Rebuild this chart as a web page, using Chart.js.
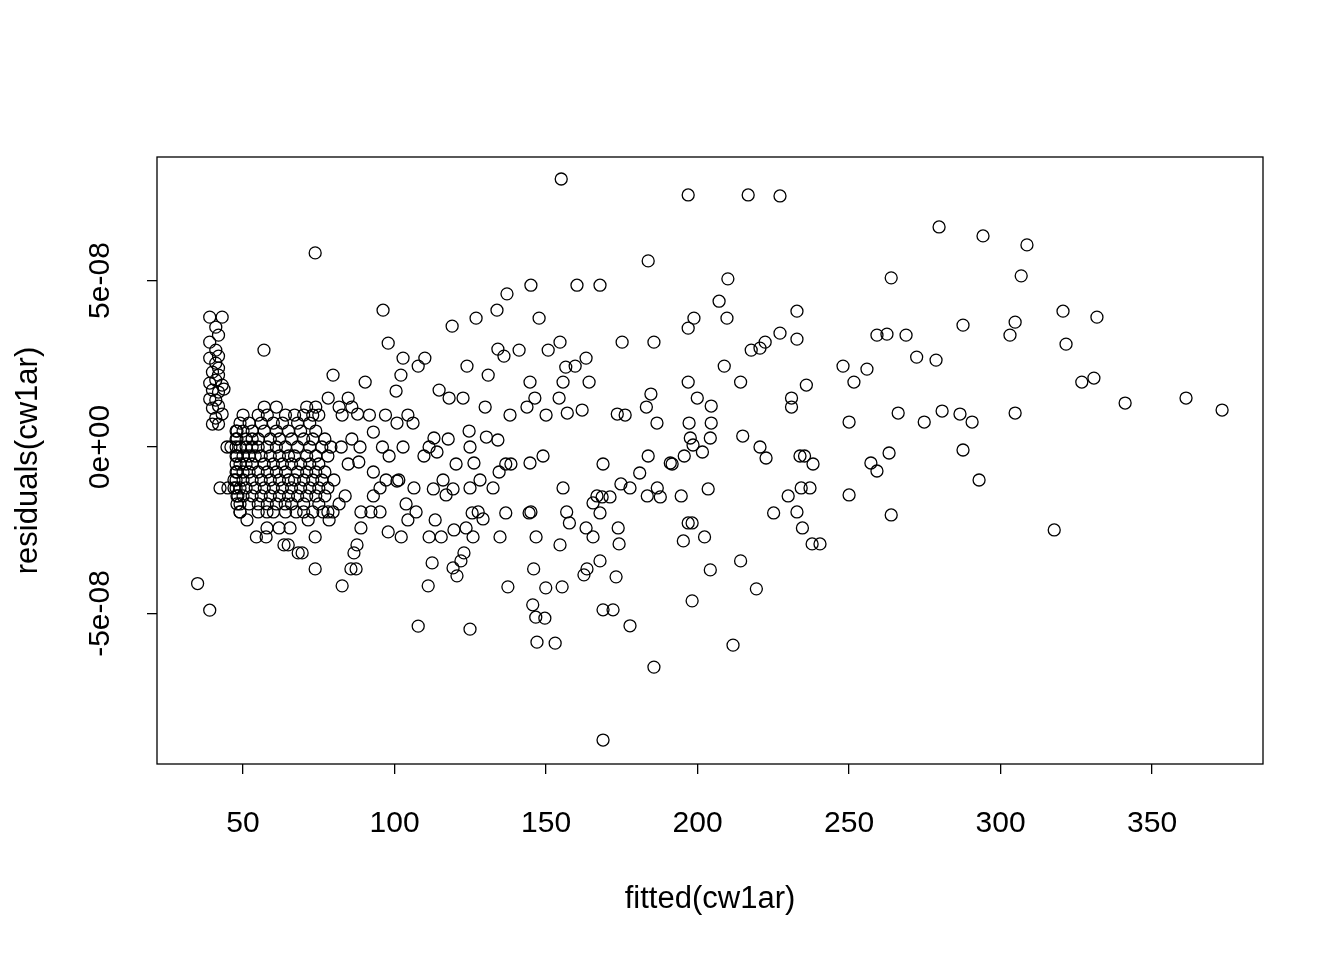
<!DOCTYPE html>
<html><head><meta charset="utf-8">
<script src="https://cdn.jsdelivr.net/npm/chart.js@4/dist/chart.umd.min.js"></script>
<style>html,body{margin:0;padding:0;background:#fff}</style>
</head><body>
<div style="width:1344px;height:960px"><canvas id="c" width="1344" height="960"></canvas></div>
<script>
// residuals in units of 1e-8
const pointsXY = [
[35,-4.1],[39,-4.9],
[39,3.9],[43.1,3.9],[41,3.6],[41.9,3.36],[39,3.15],[41,2.91],[41.9,2.73],[39,2.67],[41,2.52],[41.9,2.37],[39.9,2.25],[41.9,2.16],[39,1.92],[41,2.01],[43.1,1.86],[39.9,1.71],[41.9,1.65],[39,1.44],[41,1.41],[41.9,1.23],[39.9,1.17],[43.1,0.99],[41,0.87],[39.9,0.69],[41.9,0.69],[43.7,1.74],[42.4,-1.23],[45,-1.23],[44.7,0],
[155,8.05],[196.9,7.57],[216.7,7.57],[227.2,7.54],[279.7,6.61],[294.2,6.34],[308.7,6.07],[73.8,5.83],[183.7,5.59],[263.9,5.08],[210,5.05],[306.8,5.14],
[145,4.86],[160.2,4.86],[167.8,4.86],[137.1,4.6],[207.1,4.38],[96.2,4.11],[133.8,4.11],[232.8,4.08],[320.6,4.08],[331.8,3.9],[147.7,3.87],[126.9,3.87],[198.8,3.87],[209.7,3.87],[287.6,3.66],[119,3.63],[196.9,3.57],[304.8,3.75],[227.2,3.42],[259.2,3.36],[262.5,3.39],[268.8,3.36],[303.1,3.36],[232.8,3.24],[321.6,3.09],[175.1,3.15],[185.6,3.15],[97.9,3.12],[154.6,3.15],
[56.9,2.91],[134.1,2.94],[141.1,2.91],[150.7,2.91],[217.7,2.91],[220.6,2.97],[222.3,3.15],[272.3,2.7],[278.7,2.61],[102.8,2.67],[110,2.67],[163.2,2.67],[136.1,2.73],[107.8,2.43],[123.9,2.43],[156.5,2.4],[159.6,2.43],[208.8,2.43],[248,2.43],[255.9,2.34],[130.9,2.16],[102.1,2.16],[79.7,2.16],
[326.8,1.95],[330.8,2.07],[251.6,1.95],[214.2,1.95],[235.9,1.86],[196.9,1.95],[164.2,1.95],[144.7,1.95],[155.6,1.95],[90.3,1.95],[114.7,1.71],[100.5,1.68],[84.7,1.47],[78.1,1.47],[118,1.47],[122.6,1.47],[184.6,1.59],[231,1.47],[341.1,1.32],[361.2,1.47],[373.1,1.11],[280.7,1.08],[286.6,0.99],[304.8,1.02],[290.6,0.75],[274.8,0.75],[266.2,1.02],[250,0.75],[231,1.2],[204.5,1.23],[199.9,1.47],[204.5,0.72],[197.2,0.72],[176.1,0.96],[173.5,0.99],[183.1,1.2],[186.6,0.72],[161.9,1.11],[146.3,1.47],[143.7,1.2],[150,0.96],[154.3,1.47],[157,1.02],[129.9,1.2],[138.1,0.96],
[214.9,0.33],[204.2,0.27],[197.6,0.27],[198.5,0.06],[220.6,0],[222.6,-0.33],[233.8,-0.27],[235.3,-0.27],[238.1,-0.51],[263.2,-0.18],[257.2,-0.48],[259.2,-0.72],[287.6,-0.09],[292.9,-0.99],[317.7,-2.49],[250,-1.44],[263.9,-2.04],[237.1,-1.23],[234.2,-1.23],[229.9,-1.47],[232.8,-1.95],[225.1,-1.98],[234.6,-2.43],[237.8,-2.91],[240.4,-2.91],
[203.5,-1.26],[191,-0.48],[191.6,-0.51],[201.6,-0.15],[195.6,-0.27],[194.6,-1.47],[186.7,-1.23],[187.7,-1.5],[183.4,-1.47],[183.7,-0.27],[177.7,-1.23],[174.7,-1.11],[180.9,-0.78],[168.8,-0.51],[166.8,-1.47],[168.5,-1.5],[171.1,-1.5],[165.5,-1.68],[167.8,-1.98],[173.8,-2.43],[174.1,-2.91],[163.2,-2.43],[165.5,-2.7],[162.5,-3.84],[163.5,-3.66],[167.8,-3.42],[173.1,-3.9],[196.9,-2.28],[198.2,-2.28],[195.3,-2.82],[202.3,-2.7],[204.2,-3.69],[214.2,-3.42],[219.4,-4.26],[198.2,-4.62],[168.8,-4.89],[172.1,-4.89],[177.7,-5.37],[185.6,-6.61],[211.7,-5.95],[168.8,-8.8],
[153,-5.89],[147,-5.86],[146.6,-5.11],[149.6,-5.14],[145.6,-4.74],[149.9,-4.23],[145.9,-3.66],[155.3,-4.2],[154.6,-2.94],[146.7,-2.7],[157.7,-2.28],[156.8,-1.95],[155.6,-1.23],[144.4,-1.98],[145,-1.95],[136.7,-1.98],[137.4,-4.2],[124.9,-5.47],[107.8,-5.38],[111.1,-4.17],[112.4,-3.48],[120.6,-3.87],[121.9,-3.42],[122.9,-3.18],[119.3,-3.63],[111.4,-2.7],[115.4,-2.7],[125.9,-2.7],[134.8,-2.7],[119.6,-2.49],[123.6,-2.43],[129.2,-2.16],[113.4,-2.19],[104.4,-2.19],[102.2,-2.7],[97.9,-2.55],[127.6,-1.95],[125.6,-1.98],[107.1,-1.95],[103.8,-1.71],[112.8,-1.26],[119.3,-1.26],[124.9,-1.23],[132.5,-1.23],[128.2,-0.99],[116,-0.99],[117,-1.44],[101.4,-0.99],[100.8,-1.02],[106.4,-1.23],[134.5,-0.75],[126.2,-0.48],[120.3,-0.51],[136.7,-0.51],[138.4,-0.51],[144.7,-0.48],[149,-0.27],
[134.1,0.21],[130.3,0.3],[124.9,0],[124.6,0.48],[117.7,0.24],[114,-0.15],[109.7,-0.27],[111.4,0],[113,0.27],[106.1,0.72],[104.4,0.96],[100.8,0.72],[102.8,0],[98.2,-0.27],[96,0],[93,0.45],[97,0.96],[91.7,0.96],[87.8,0.99],[85.9,1.2],[82.7,0.96],[81.7,1.2],[88.6,0],[85.9,0.24],[82.4,0],[84.7,-0.51],[88.2,-0.45],[93,-0.75],[93,-1.47],[97.2,-0.99],[95.2,-1.23],[92.2,-1.95],[95.2,-1.95],[88.9,-1.95],[88.9,-2.43],[87.6,-2.94],[86.6,-3.18],[87.3,-3.66],[85.6,-3.66],[82.7,-4.17],[83.7,-1.47],[81.7,-1.71],[79.7,-1.95],[78.4,-2.19],[76.4,-1.95],[73.8,-2.7],[73.8,-3.66],[68.2,-3.18],[69.5,-3.18],[63.5,-2.94],[64.9,-2.94],[57.6,-2.7],[54.4,-2.7],[65.5,-2.43],[61.9,-2.43],[57.9,-2.43],[71.5,-2.19],[67.5,-1.95],[63.9,-1.71],[57.9,-1.95],[51.3,-2.19],[49,-1.95],[49,-1.71],[48.3,-1.47],[47.7,-1.23],[47.7,-0.99],[47.7,-0.75],[47.7,-0.51],[47.7,-0.27],[47.7,0],[47.7,0.24],[47.7,0.48],
[57,1.2],[61,1.2],[71,1.2],[74,1.2],
[50,0.96],[55,0.96],[58,0.96],[64,0.96],[67,0.96],[70,0.96],[73,0.96],[75,0.96],
[49,0.72],[52,0.72],[56,0.72],[60,0.72],[63,0.72],[68,0.72],[72,0.72],
[48,0.48],[50,0.48],[53,0.48],[57,0.48],[61,0.48],[65,0.48],[69,0.48],[74,0.48],
[48,0.24],[51,0.24],[53,0.24],[55,0.24],[59,0.24],[62,0.24],[66,0.24],[70,0.24],[73,0.24],[77,0.24],
[46,0],[49,0],[51,0],[53,0],[55,0],[58,0],[61,0],[64,0],[68,0],[72,0],[76,0],[79,0],
[48,-0.27],[50,-0.27],[52,-0.27],[54,-0.27],[56,-0.27],[59,-0.27],[62,-0.27],[65,-0.27],[67,-0.27],[71,-0.27],[74,-0.27],[78,-0.27],
[49,-0.51],[51,-0.51],[53,-0.51],[57,-0.51],[60,-0.51],[63,-0.51],[66,-0.51],[69,-0.51],[72,-0.51],[75,-0.51],
[48,-0.75],[50,-0.75],[52,-0.75],[55,-0.75],[58,-0.75],[61,-0.75],[64,-0.75],[68,-0.75],[71,-0.75],[74,-0.75],[77,-0.75],
[47,-0.99],[50,-0.99],[53,-0.99],[56,-0.99],[59,-0.99],[62,-0.99],[65,-0.99],[67,-0.99],[70,-0.99],[73,-0.99],[76,-0.99],[80,-0.99],
[47,-1.23],[49,-1.23],[51,-1.23],[54,-1.23],[57,-1.23],[60,-1.23],[63,-1.23],[66,-1.23],[69,-1.23],[72,-1.23],[75,-1.23],[78,-1.23],
[48,-1.47],[50,-1.47],[53,-1.47],[56,-1.47],[59,-1.47],[62,-1.47],[65,-1.47],[68,-1.47],[71,-1.47],[74,-1.47],[77,-1.47],
[48,-1.71],[52,-1.71],[55,-1.71],[58,-1.71],[61,-1.71],[66,-1.71],[70,-1.71],[75,-1.71],
[49,-1.95],[55,-1.95],[60,-1.95],[64,-1.95],[70,-1.95],[73,-1.95],[78,-1.95]
];
const xTicks = [50,100,150,200,250,300,350];
const yTicks = [-5,0,5];
const yTickLabels = {"-5":"-5e-08","0":"0e+00","5":"5e-08"};

const FONT = "'Liberation Sans', Arial, sans-serif";
const boxPlugin = {
  id:'box',
  afterDraw(chart){
    const a = chart.chartArea, ctx = chart.ctx;
    ctx.save(); ctx.strokeStyle='#000'; ctx.lineWidth=1.3;
    ctx.strokeRect(a.left,a.top,a.right-a.left,a.bottom-a.top);
    // y tick labels, rotated, centred on the tick (R style)
    const ys = chart.scales.y;
    ctx.fillStyle='#000'; ctx.font='30px '+FONT;
    ctx.textAlign='center'; ctx.textBaseline='middle';
    yTicks.forEach(v=>{
      const py = ys.getPixelForValue(v);
      ctx.save(); ctx.translate(101,py); ctx.rotate(-Math.PI/2);
      ctx.fillText(yTickLabels[String(v)],0,0); ctx.restore();
    });
    ctx.restore();
  }
};
new Chart(document.getElementById('c'), {
  type:'scatter',
  data:{datasets:[{data:pointsXY.map(p=>({x:p[0],y:p[1]})),
    pointStyle:'circle',radius:6,hoverRadius:6,borderColor:'#000',borderWidth:1.3,backgroundColor:'rgba(0,0,0,0)'}]},
  options:{
    responsive:false,animation:false,
    layout:{padding:{top:157,right:81,left:0,bottom:0}},
    plugins:{legend:{display:false},tooltip:{enabled:false}},
    scales:{
      x:{type:'linear',min:21.6,max:386.6,
        afterFit(s){s.height=196;},
        afterBuildTicks(s){s.ticks=xTicks.map(v=>({value:v}));},
        grid:{drawOnChartArea:false,tickLength:10,color:'#000',lineWidth:1.3},
        border:{display:false},
        ticks:{color:'#000',font:{family:FONT,size:30},padding:32,maxRotation:0,autoSkip:false},
        title:{display:true,text:'fitted(cw1ar)',color:'#000',font:{family:FONT,size:31},padding:{top:0,bottom:42}}
      },
      y:{type:'linear',min:-9.52,max:8.71,
        afterFit(s){s.width=157;},
        afterBuildTicks(s){s.ticks=yTicks.map(v=>({value:v}));},
        grid:{drawOnChartArea:false,tickLength:10,color:'#000',lineWidth:1.3},
        border:{display:false},
        ticks:{display:false},
        title:{display:true,text:'residuals(cw1ar)',color:'#000',font:{family:FONT,size:31},padding:{top:10,bottom:0}}
      }
    }
  },
  plugins:[boxPlugin]
});
</script>
</body></html>
